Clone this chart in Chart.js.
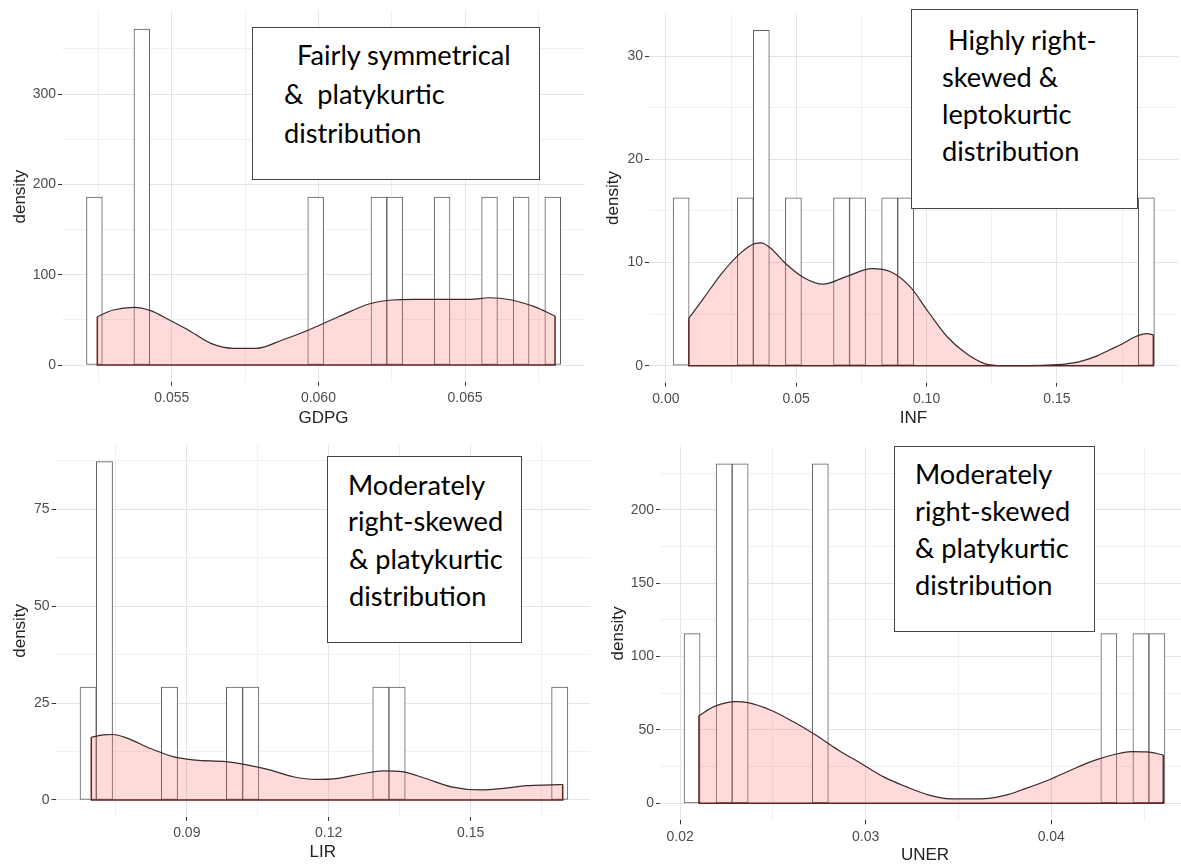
<!DOCTYPE html>
<html>
<head>
<meta charset="utf-8">
<script src="https://cdn.jsdelivr.net/npm/chart.js@4.4.1/dist/chart.umd.min.js"></script>
<style>
  html, body { margin: 0; padding: 0; background: #fff; }
  body { width: 1181px; height: 868px; position: relative; overflow: hidden; }
  canvas { position: absolute; }
  .note { position: absolute; border: 1px solid #444; background: #fff; box-sizing: border-box;
          font-family: Lato, 'Open Sans', sans-serif; color: #000; }
  .note span { position: absolute; white-space: pre; font-size: 27.2px; line-height: 27.2px; }
</style>
</head>
<body>
<canvas id="gdpg" width="590" height="432" style="left:0;top:0"></canvas>
<canvas id="inf" width="591" height="432" style="left:590px;top:0"></canvas>
<canvas id="lir" width="590" height="448" style="left:0;top:420px"></canvas>
<canvas id="uner" width="600" height="448" style="left:590px;top:420px"></canvas>

<div class="note" style="left:252px;top:27px;width:288px;height:153px">
  <span style="left:44px;top:13px">Fairly symmetrical</span>
  <span style="left:31px;top:52px">&amp;  platykurtic</span>
  <span style="left:31px;top:91px">distribution</span>
</div>
<div class="note" style="left:911px;top:9px;width:227px;height:200px">
  <span style="left:36px;top:16px">Highly right-</span>
  <span style="left:30px;top:53px">skewed &amp;</span>
  <span style="left:30px;top:90px">leptokurtic</span>
  <span style="left:30px;top:127px">distribution</span>
</div>
<div class="note" style="left:327px;top:456px;width:195px;height:187px">
  <span style="left:20px;top:14px">Moderately</span>
  <span style="left:20px;top:50px">right-skewed</span>
  <span style="left:21px;top:88px">&amp; platykurtic</span>
  <span style="left:21px;top:125px">distribution</span>
</div>
<div class="note" style="left:894px;top:446px;width:201px;height:186px">
  <span style="left:20px;top:13px">Moderately</span>
  <span style="left:20px;top:50px">right-skewed</span>
  <span style="left:20px;top:87px">&amp; platykurtic</span>
  <span style="left:20px;top:124px">distribution</span>
</div>

<script>
Chart.defaults.font.family = "'Liberation Sans', Arial, sans-serif";
Chart.defaults.animation = false;

// GDPG: histogram bin centres, bar heights, density curve
const gdpgBins = [0.052360, 0.053977, 0.059906, 0.062062, 0.062601, 0.064218, 0.065835, 0.066913, 0.067991];
const gdpgHeights = [186, 372, 186, 186, 186, 186, 186, 186, 186];
const gdpgKdeX = [0.05246, 0.05300, 0.05371, 0.05428, 0.05492, 0.05556, 0.05633, 0.05710, 0.05787, 0.05877,
                  0.05967, 0.06069, 0.06172, 0.06249, 0.06326, 0.06518, 0.06582, 0.06659, 0.06736, 0.06807];
const gdpgKdeY = [53.5, 60.9, 63.9, 60.2, 49.8, 38.8, 24.0, 18.5, 18.5, 27.7,
                  38.8, 53.5, 67.6, 72.0, 72.7, 72.7, 74.5, 72.0, 64.6, 54.3];
const gdpgXTicks = [0.055, 0.060, 0.065];
const gdpgXLabels = ['0.055', '0.060', '0.065'];
const gdpgXMinor = [0.0525, 0.0575, 0.0625, 0.0675];
const gdpgYTicks = [0, 100, 200, 300];
const gdpgYMinor = [50, 150, 250, 350];

// INF
const infBins = [0.00584, 0.03046, 0.03661, 0.04892, 0.06738, 0.07353, 0.08584, 0.09200, 0.18431];
const infHeights = [16.25, 16.25, 32.5, 16.25, 16.25, 16.25, 16.25, 16.25, 16.25];
const infKdeX = [0.0088, 0.0141, 0.0213, 0.0286, 0.0343, 0.0365, 0.0401, 0.0459, 0.0531, 0.0603,
                 0.0689, 0.0790, 0.0862, 0.0935, 0.1007, 0.1079, 0.1151, 0.1223, 0.1295, 0.1500,
                 0.1580, 0.1650, 0.1700, 0.1750, 0.1800, 0.1845, 0.1870];
const infKdeY = [4.6, 6.4, 8.9, 10.9, 11.85, 11.9, 11.4, 9.9, 8.5, 7.9,
                 8.6, 9.4, 9.1, 7.7, 5.2, 2.8, 1.2, 0.2, 0, 0.1,
                 0.35, 0.9, 1.5, 2.1, 2.8, 3.1, 3.0];
const infXTicks = [0, 0.05, 0.10, 0.15];
const infXLabels = ['0.00', '0.05', '0.10', '0.15'];
const infXMinor = [0.025, 0.075, 0.125, 0.175];
const infYTicks = [0, 10, 20, 30];
const infYMinor = [5, 15, 25];

// LIR
const lirBins = [0.06914, 0.07258, 0.08633, 0.10008, 0.10352, 0.13102, 0.13446, 0.16884];
const lirHeights = [29.1, 87.3, 29.1, 29.1, 29.1, 29.1, 29.1, 29.1];
const lirKdeX = [0.06981, 0.07236, 0.07434, 0.07752, 0.08229, 0.08706, 0.09183, 0.09819, 0.10295, 0.10772,
                 0.11249, 0.11726, 0.12203, 0.12680, 0.13156, 0.13554, 0.14031, 0.14587, 0.15223, 0.15700,
                 0.16176, 0.16733, 0.16947];
const lirKdeY = [16.2, 16.8, 16.9, 15.9, 13.3, 11.2, 10.3, 9.9, 9.0, 7.7,
                 6.0, 5.3, 5.6, 6.7, 7.5, 7.3, 5.6, 3.4, 2.6, 3.0,
                 3.7, 3.9, 4.0];
const lirXTicks = [0.09, 0.12, 0.15];
const lirXLabels = ['0.09', '0.12', '0.15'];
const lirXMinor = [0.075, 0.105, 0.135, 0.165];
const lirYTicks = [0, 25, 50, 75];
const lirYMinor = [12.5, 37.5, 62.5, 87.5];

// UNER
const unerBins = [0.02064, 0.022368, 0.023232, 0.027552, 0.043104, 0.044832, 0.045696];
const unerHeights = [115.7, 231.5, 231.5, 231.5, 115.7, 115.7, 115.7];
const unerKdeX = [0.02101, 0.02182, 0.02304, 0.02365, 0.02486, 0.02608, 0.02730, 0.02851, 0.02973, 0.03094,
                  0.03216, 0.03337, 0.03459, 0.03621, 0.03743, 0.03864, 0.03986, 0.04107, 0.04229, 0.04351,
                  0.04432, 0.04513, 0.04604];
const unerKdeY = [59.8, 65.9, 69.3, 68.6, 63.6, 55.7, 46.6, 36.4, 27.3, 18.2,
                  11.4, 5.7, 3.0, 3.0, 5.2, 10.2, 15.9, 22.7, 29.1, 33.6,
                  35.2, 35.0, 33.0];
const unerXTicks = [0.02, 0.03, 0.04];
const unerXLabels = ['0.02', '0.03', '0.04'];
const unerXMinor = [0.025, 0.035, 0.045];
const unerYTicks = [0, 50, 100, 150, 200];
const unerYMinor = [25, 75, 125, 175, 225];

function histPanel(id, p) {
  const canvas = document.getElementById(id);
  const W = canvas.width, H = canvas.height;
  const n = p.kdeX.length - 1;
  const xAll = p.xTicks.concat(p.xMinor).sort((a, b) => a - b);
  const yAll = p.yTicks.concat(p.yMinor).sort((a, b) => a - b);

  const gridColor = majors => c => (c.tick && majors.includes(c.tick.value)) ? '#e4e4e4' : '#f0f0f0';
  const tickColor = majors => c => (c.tick && majors.includes(c.tick.value)) ? '#333' : 'rgba(0,0,0,0)';

  new Chart(canvas, {
    type: 'bar',
    data: {
      datasets: [
        {
          type: 'line',
          data: p.kdeX.map((x, i) => ({ x: x, y: p.kdeY[i] })),
          cubicInterpolationMode: 'monotone',
          borderColor: '#3b2a2a',
          borderWidth: 1.2,
          backgroundColor: 'rgba(250, 100, 100, 0.24)',
          fill: 'origin',
          pointRadius: 0,
          order: 1
        },
        {
          type: 'line',
          data: [
            { x: p.kdeX[0], y: p.kdeY[0] }, { x: p.kdeX[0], y: 0 },
            { x: p.kdeX[n], y: 0 }, { x: p.kdeX[n], y: p.kdeY[n] }
          ],
          borderColor: '#5e2323',
          borderWidth: 1.5,
          pointRadius: 0,
          fill: false,
          order: 0
        },
        {
          type: 'bar',
          data: p.bins.map((x, i) => ({ x: x, y: p.heights[i] })),
          backgroundColor: '#ffffff',
          borderColor: '#5e5e5e',
          borderWidth: 1,
          borderSkipped: false,
          barPercentage: 1,
          categoryPercentage: 1,
          order: 2
        }
      ]
    },
    options: {
      responsive: false,
      layout: { padding: { left: 0, top: p.top, right: W - p.right, bottom: 0 } },
      plugins: { legend: { display: false }, tooltip: { enabled: false } },
      scales: {
        x: {
          type: 'linear',
          offset: false,
          min: p.xMin, max: p.xMax,
          border: { display: false },
          grid: { offset: false, color: gridColor(p.xTicks), tickColor: tickColor(p.xTicks), tickLength: 4, lineWidth: 1 },
          afterBuildTicks: s => { s.ticks = xAll.map(v => ({ value: v })); },
          afterFit: s => { s.height = H - p.bottom; },
          ticks: {
            autoSkip: false, maxRotation: 0, minRotation: 0, padding: 4,
            color: '#4d4d4d', font: { size: 14 },
            callback: v => { const i = p.xTicks.indexOf(v); return i < 0 ? '' : p.xLabels[i]; }
          },
          title: { display: true, text: p.xTitle, color: '#222', font: { size: 17 }, padding: { top: 0, bottom: p.xTitlePad } }
        },
        y: {
          min: p.yMin, max: p.yMax,
          border: { display: false },
          grid: { color: gridColor(p.yTicks), tickColor: tickColor(p.yTicks), tickLength: 4, lineWidth: 1 },
          afterBuildTicks: s => { s.ticks = yAll.map(v => ({ value: v })); },
          afterFit: s => { s.width = p.left; },
          ticks: {
            autoSkip: false, padding: 2,
            color: '#4d4d4d', font: { size: 14 },
            callback: v => p.yTicks.includes(v) ? String(v) : ''
          },
          title: { display: true, text: 'density', color: '#222', font: { size: 17 }, padding: { top: p.yTitlePad, bottom: 0 } }
        }
      }
    }
  });
}

histPanel('gdpg', {
  bins: gdpgBins, heights: gdpgHeights, kdeX: gdpgKdeX, kdeY: gdpgKdeY,
  xTicks: gdpgXTicks, xLabels: gdpgXLabels, xMinor: gdpgXMinor, yTicks: gdpgYTicks, yMinor: gdpgYMinor,
  xTitle: 'GDPG', left: 62, right: 585, top: 11.4, bottom: 381.8,
  xMin: 0.051255, xMax: 0.069091, yMin: -18.6, yMax: 391.6, xTitlePad: 3, yTitlePad: 10
});
histPanel('inf', {
  bins: infBins, heights: infHeights, kdeX: infKdeX, kdeY: infKdeY,
  xTicks: infXTicks, xLabels: infXLabels, xMinor: infXMinor, yTicks: infYTicks, yMinor: infYMinor,
  xTitle: 'INF', left: 59, right: 588, top: 13.5, bottom: 382.5,
  xMin: -0.00648, xMax: 0.19645, yMin: -1.63, yMax: 34.12, xTitlePad: 3, yTitlePad: 13
});
histPanel('lir', {
  bins: lirBins, heights: lirHeights, kdeX: lirKdeX, kdeY: lirKdeY,
  xTicks: lirXTicks, xLabels: lirXLabels, xMinor: lirXMinor, yTicks: lirYTicks, yMinor: lirYMinor,
  xTitle: 'LIR', left: 55.6, right: 590, top: 24.7, bottom: 397,
  xMin: 0.06226, xMax: 0.17524, yMin: -4.39, yMax: 91.67, xTitlePad: 5, yTitlePad: 10
});
histPanel('uner', {
  bins: unerBins, heights: unerHeights, kdeX: unerKdeX, kdeY: unerKdeY,
  xTicks: unerXTicks, xLabels: unerXLabels, xMinor: unerXMinor, yTicks: unerYTicks, yMinor: unerYMinor,
  xTitle: 'UNER', left: 70, right: 600, top: 26.7, bottom: 400.3,
  xMin: 0.018911, xMax: 0.047478, yMin: -11.59, yMax: 243.1, xTitlePad: 2, yTitlePad: 18
});
</script>
</body>
</html>
